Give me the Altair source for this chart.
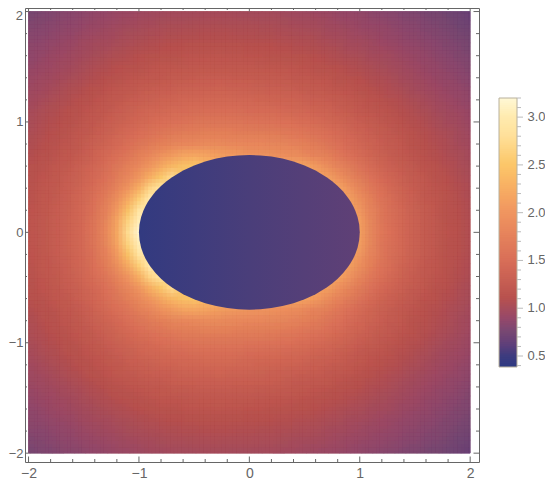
import altair as alt
import pandas as pd

X_VALUES = [round(-2 + 0.1 * i, 1) for i in range(41)]
Y_VALUES = [round(0.1 * i, 1) for i in range(21)]
F = 2.2
ROWS = [
[1.16,1.20,1.25,1.31,1.38,1.47,1.62,1.85,2.20,2.75,3.15,3.1,3.0,2.9,2.8,2.7,2.6,2.5,2.4,2.3,F,F,F,F,F,F,F,F,F,F,2.10,1.82,1.64,1.51,1.41,1.33,1.26,1.20,1.15,1.10,1.06],
[1.16,1.20,1.25,1.31,1.38,1.46,1.61,1.82,2.15,2.65,3.05,3.0,2.9,2.8,2.7,2.6,2.5,2.4,2.3,F,F,F,F,F,F,F,F,F,F,F,2.08,1.81,1.63,1.50,1.41,1.33,1.26,1.20,1.14,1.10,1.06],
[1.15,1.19,1.24,1.30,1.37,1.45,1.58,1.76,2.05,2.45,2.90,2.9,2.8,2.7,2.6,2.5,2.4,2.3,F,F,F,F,F,F,F,F,F,F,F,2.15,2.02,1.78,1.61,1.49,1.40,1.32,1.25,1.19,1.14,1.09,1.05],
[1.14,1.18,1.23,1.28,1.35,1.43,1.55,1.70,1.92,2.22,2.60,3.0,2.7,2.6,2.5,2.4,2.3,F,F,F,F,F,F,F,F,F,F,F,F,2.10,1.92,1.72,1.58,1.46,1.37,1.30,1.23,1.18,1.13,1.08,1.04],
[1.13,1.17,1.21,1.27,1.33,1.41,1.50,1.62,1.78,1.99,2.28,2.68,2.9,2.6,2.5,2.4,2.3,F,F,F,F,F,F,F,F,F,F,F,2.15,2.00,1.80,1.64,1.52,1.42,1.34,1.27,1.21,1.16,1.11,1.07,1.03],
[1.11,1.15,1.19,1.24,1.30,1.37,1.45,1.55,1.67,1.83,2.02,2.27,2.52,2.75,2.5,2.4,2.3,F,F,F,F,F,F,F,F,F,F,2.10,1.96,1.81,1.67,1.55,1.45,1.37,1.30,1.24,1.18,1.13,1.09,1.05,1.01],
[1.10,1.13,1.17,1.22,1.27,1.34,1.41,1.50,1.60,1.72,1.86,2.02,2.20,2.36,2.45,2.5,2.4,2.3,F,F,F,F,F,F,F,2.15,2.05,1.92,1.79,1.67,1.56,1.46,1.38,1.31,1.25,1.20,1.15,1.11,1.07,1.03,1.00],
[1.07,1.10,1.14,1.18,1.23,1.29,1.36,1.44,1.52,1.62,1.72,1.84,1.96,2.07,2.15,2.18,2.15,2.10,2.06,2.03,2.00,1.98,1.96,1.94,1.90,1.85,1.79,1.72,1.64,1.55,1.46,1.39,1.32,1.26,1.21,1.16,1.12,1.08,1.04,1.01,.98],
[1.05,1.08,1.12,1.16,1.20,1.26,1.32,1.38,1.45,1.52,1.60,1.67,1.74,1.80,1.84,1.86,1.87,1.87,1.86,1.85,1.84,1.83,1.82,1.80,1.77,1.73,1.68,1.62,1.55,1.48,1.41,1.35,1.29,1.24,1.19,1.14,1.10,1.06,1.03,.99,.96],
[1.03,1.06,1.09,1.13,1.17,1.22,1.27,1.33,1.39,1.45,1.51,1.56,1.61,1.66,1.69,1.71,1.72,1.73,1.72,1.71,1.70,1.69,1.68,1.66,1.64,1.61,1.57,1.52,1.47,1.41,1.35,1.30,1.25,1.20,1.16,1.12,1.08,1.04,1.01,.97,.94],
[1.01,1.04,1.07,1.10,1.14,1.18,1.23,1.28,1.33,1.38,1.43,1.47,1.51,1.54,1.57,1.59,1.60,1.60,1.60,1.59,1.58,1.57,1.56,1.55,1.53,1.50,1.47,1.43,1.39,1.34,1.29,1.25,1.20,1.16,1.12,1.08,1.05,1.01,.98,.95,.92],
[.99,1.02,1.05,1.08,1.11,1.15,1.19,1.23,1.28,1.32,1.36,1.40,1.43,1.46,1.48,1.49,1.50,1.50,1.50,1.49,1.48,1.47,1.46,1.45,1.43,1.41,1.38,1.35,1.31,1.27,1.23,1.19,1.16,1.12,1.08,1.05,1.02,.98,.95,.93,.90],
[.96,.99,1.02,1.05,1.08,1.12,1.15,1.19,1.23,1.27,1.30,1.33,1.36,1.38,1.40,1.41,1.42,1.42,1.42,1.41,1.40,1.39,1.38,1.37,1.35,1.33,1.31,1.28,1.25,1.22,1.18,1.15,1.11,1.08,1.05,1.02,.99,.96,.93,.90,.87],
[.94,.96,.99,1.02,1.05,1.08,1.11,1.15,1.18,1.21,1.24,1.27,1.29,1.31,1.33,1.34,1.34,1.35,1.34,1.34,1.33,1.32,1.31,1.30,1.28,1.26,1.24,1.22,1.19,1.16,1.13,1.10,1.07,1.04,1.01,.98,.96,.93,.90,.88,.85],
[.91,.94,.96,.99,1.01,1.04,1.07,1.10,1.13,1.16,1.19,1.21,1.23,1.25,1.26,1.27,1.28,1.28,1.28,1.27,1.27,1.26,1.25,1.24,1.22,1.21,1.19,1.17,1.14,1.12,1.09,1.06,1.04,1.01,.98,.96,.93,.90,.88,.85,.82],
[.89,.91,.93,.96,.98,1.01,1.04,1.06,1.09,1.12,1.14,1.16,1.18,1.19,1.20,1.21,1.22,1.22,1.22,1.21,1.21,1.20,1.19,1.18,1.17,1.15,1.14,1.12,1.10,1.07,1.05,1.03,1.00,.98,.95,.93,.90,.88,.85,.83,.80],
[.86,.88,.91,.93,.95,.98,1.00,1.03,1.05,1.07,1.09,1.11,1.13,1.14,1.15,1.16,1.16,1.17,1.16,1.16,1.15,1.15,1.14,1.13,1.12,1.11,1.09,1.07,1.05,1.03,1.01,.99,.97,.95,.92,.90,.88,.85,.83,.80,.78],
[.84,.86,.88,.90,.92,.95,.97,.99,1.01,1.03,1.05,1.07,1.08,1.09,1.10,1.11,1.11,1.12,1.11,1.11,1.10,1.10,1.09,1.08,1.07,1.06,1.05,1.03,1.01,.99,.97,.95,.93,.91,.89,.87,.85,.83,.80,.78,.75],
[.81,.83,.85,.87,.89,.92,.94,.96,.98,1.00,1.01,1.03,1.04,1.05,1.06,1.06,1.07,1.07,1.07,1.06,1.06,1.05,1.05,1.04,1.03,1.02,1.01,.99,.97,.96,.94,.92,.90,.88,.86,.84,.82,.80,.78,.75,.73],
[.78,.80,.82,.84,.86,.88,.90,.92,.94,.96,.97,.99,1.00,1.01,1.01,1.02,1.02,1.03,1.02,1.02,1.02,1.01,1.01,1.00,.99,.98,.97,.95,.94,.92,.90,.89,.87,.85,.83,.81,.79,.77,.75,.72,.70],
[.75,.77,.79,.81,.83,.85,.87,.89,.91,.92,.94,.95,.96,.97,.98,.98,.99,.99,.99,.98,.98,.97,.97,.96,.95,.94,.93,.92,.90,.89,.87,.85,.83,.81,.79,.78,.76,.74,.72,.70,.67],
]

ELL_X = [-1.0,-.995,-.98,-.96,-.94,-.92,-.9,-.85,-.8,-.75,-.7,-.6,-.5,-.4,-.3,-.2,-.1,0,.1,.2,.3,.4,.5,.6,.7,.75,.8,.85,.9,.92,.94,.96,.98,.995,1.0]
ELL_H = [0,.07,.139,.196,.239,.274,.305,.369,.42,.463,.5,.56,.606,.642,.668,.686,.697,.70,.697,.686,.668,.642,.606,.56,.5,.463,.42,.369,.305,.274,.239,.196,.139,.07,0]

MAJOR = [-2, -1, 0, 1, 2]
MINOR = [round(-2 + 0.2 * i, 1) for i in range(21) if (i % 5) != 0]
Y_AXIS_VALUES = [-2, -1, 0, 1]
LEG_LABELS = [0.5, 1.0, 1.5, 2.0, 2.5, 3.0]
LEG_MINOR = [.4,.6,.7,.8,.9,1.1,1.2,1.3,1.4,1.6,1.7,1.8,1.9,2.1,2.2,2.3,2.4,2.6,2.7,2.8,2.9,3.1,3.2]
LEG_STOPS = [round(0.385 + 0.02 * i, 3) for i in range(141)]

C_DOMAIN = [0.385, 0.5, 0.75, 1.0, 1.1, 1.5, 2.0, 2.5, 2.8, 3.0, 3.2]
C_RANGE = ["#2f3a82", "#3e3c7e", "#784872", "#a84e5a", "#b8524e", "#d96f58", "#f09660", "#fcc76a", "#ffe09a", "#ffebb0", "#fff8d8"]
FRAME = "#666666"
TEXT = "#666666"
FONT = "Liberation Sans"
W, H = 454, 454
X_DOM = [-2.032, 2.08]
Y_DOM = [-2.08, 2.032]
OFFSETS = [-.033, 0, .033]

color_scale = alt.Scale(domain=C_DOMAIN, range=C_RANGE, clamp=True)
xs = alt.Scale(domain=X_DOM, nice=False, zero=False)
ys = alt.Scale(domain=Y_DOM, nice=False, zero=False)
leg_scale = alt.Scale(domain=[0.385, 3.2], range=[359, 90], nice=False, zero=False)
x_axis = alt.Axis(values=MAJOR, format="d", title=None, grid=False, domain=False, ticks=False, labelPadding=4,
                  labelFont=FONT, labelFontSize=14, labelColor=TEXT)
y_axis = alt.Axis(values=Y_AXIS_VALUES, format="d", title=None, grid=False, domain=False, ticks=False, labelPadding=2,
                  labelFont=FONT, labelFontSize=13, labelColor=TEXT)


def cells(dx, dy):
    recs = []
    for r, yv in zip(ROWS[:0:-1] + ROWS, [-v for v in Y_VALUES[:0:-1]] + Y_VALUES):
        for xv, val in zip(X_VALUES, r):
            recs.append({
                "x0": max(-2, round(xv - .05 + dx, 3)), "x1": min(2, round(xv + .05 + dx, 3)),
                "y0": max(-2, round(yv - .05 + dy, 3)), "y1": min(2, round(yv + .05 + dy, 3)),
                "v": val})
    return pd.DataFrame(recs)


def heat(dx, dy, op, yaxis=None, solid=False):
    enc = dict(
        x=alt.X("x0:Q", scale=xs, axis=x_axis),
        x2="x1:Q",
        y=alt.Y("y0:Q", scale=ys, axis=yaxis),
        y2="y1:Q",
        color=alt.Color("v:Q", scale=color_scale, legend=None),
    )
    if solid:
        enc["stroke"] = alt.Stroke("v:Q", scale=color_scale, legend=None)
    return alt.Chart(cells(dx, dy)).mark_rect(opacity=op, strokeWidth=0.6 if solid else 0).encode(**enc)


heat_layers = []
k = 1
for ox in OFFSETS:
    for oy in OFFSETS:
        heat_layers.append(heat(ox, oy, round(1 / k, 4), y_axis if k == 1 else None, solid=(k == 1)))
        k += 1

ell = alt.Chart(pd.DataFrame({"x": ELL_X, "h": ELL_H, "l": [-v for v in ELL_H]})).mark_area(
    fill=alt.LinearGradient(gradient="linear", x1=0, x2=1, y1=0, y2=0, stops=[
        alt.GradientStop(offset=0, color="#323a80"),
        alt.GradientStop(offset=0.5, color="#4a3e7a"),
        alt.GradientStop(offset=1, color="#604076")]),
    orient="vertical").encode(
    x=alt.X("x:Q", scale=xs, axis=x_axis), y=alt.Y("h:Q", scale=ys, axis=None), y2="l:Q")


def tick_v(vals, y1, y2):
    return alt.Chart(pd.DataFrame({"t": vals})).mark_rule(color=FRAME, strokeWidth=1).encode(
        x=alt.X("t:Q", scale=xs, axis=x_axis), y=alt.value(y1), y2=alt.value(y2))


def tick_h(vals, x1, x2):
    return alt.Chart(pd.DataFrame({"t": vals})).mark_rule(color=FRAME, strokeWidth=1).encode(
        y=alt.Y("t:Q", scale=ys, axis=None), x=alt.value(x1), x2=alt.value(x2))


ticks = [tick_v(MAJOR, 0, 3.5), tick_v(MINOR, 0, 2), tick_v(MAJOR, H, H - 5.5), tick_v(MINOR, H, H - 3),
         tick_h(MAJOR, 0, 3.5), tick_h(MINOR, 0, 2), tick_h(MAJOR, W, W - 5.5), tick_h(MINOR, W, W - 3)]

top_label = alt.Chart(pd.DataFrame({"t": [2], "s": ["2"]})).mark_text(
    align="right", baseline="middle", dy=4, font=FONT, fontSize=13, color=TEXT).encode(
    y=alt.Y("t:Q", scale=ys, axis=None), x=alt.value(-2), text="s:N")

leg_df = pd.DataFrame({"v": LEG_STOPS, "v2": [min(3.2, round(v + 0.03, 3)) for v in LEG_STOPS]})
leg_bar = alt.Chart(leg_df).mark_rect().encode(
    y=alt.Y("v:Q", scale=leg_scale, axis=None), y2="v2:Q",
    x=alt.value(474), x2=alt.value(492),
    color=alt.Color("v:Q", scale=color_scale, legend=None))
leg_border = alt.Chart(pd.DataFrame({"a": [0.385], "b": [3.2]})).mark_rect(
    fillOpacity=0, stroke="#b8b09c", strokeWidth=1).encode(
    y=alt.Y("a:Q", scale=leg_scale, axis=None), y2="b:Q", x=alt.value(474), x2=alt.value(492))


def leg_tick(vals, length):
    return alt.Chart(pd.DataFrame({"t": vals})).mark_rule(color="#bbbbbb", strokeWidth=1).encode(
        y=alt.Y("t:Q", scale=leg_scale, axis=None), x=alt.value(492), x2=alt.value(492 + length))


leg_text = alt.Chart(pd.DataFrame({"t": LEG_LABELS, "s": [f"{v:.1f}" for v in LEG_LABELS]})).mark_text(
    align="left", baseline="middle", font=FONT, fontSize=13, color=TEXT).encode(
    y=alt.Y("t:Q", scale=leg_scale, axis=None), x=alt.value(502.5), text="s:N")

chart = alt.layer(*heat_layers, ell, *ticks, top_label, leg_bar, leg_border,
                  leg_tick(LEG_LABELS, 6), leg_tick(LEG_MINOR, 4), leg_text).resolve_scale(
    y="independent"
).properties(
    width=W, height=H,
    padding={"left": 17, "top": 0, "right": 66, "bottom": 21},
    autosize=alt.AutoSizeParams(type="none"),
    background="white",
).configure_view(stroke=FRAME, strokeWidth=1)

chart.save("out.html", embed_options={"renderer": "svg", "actions": False})
